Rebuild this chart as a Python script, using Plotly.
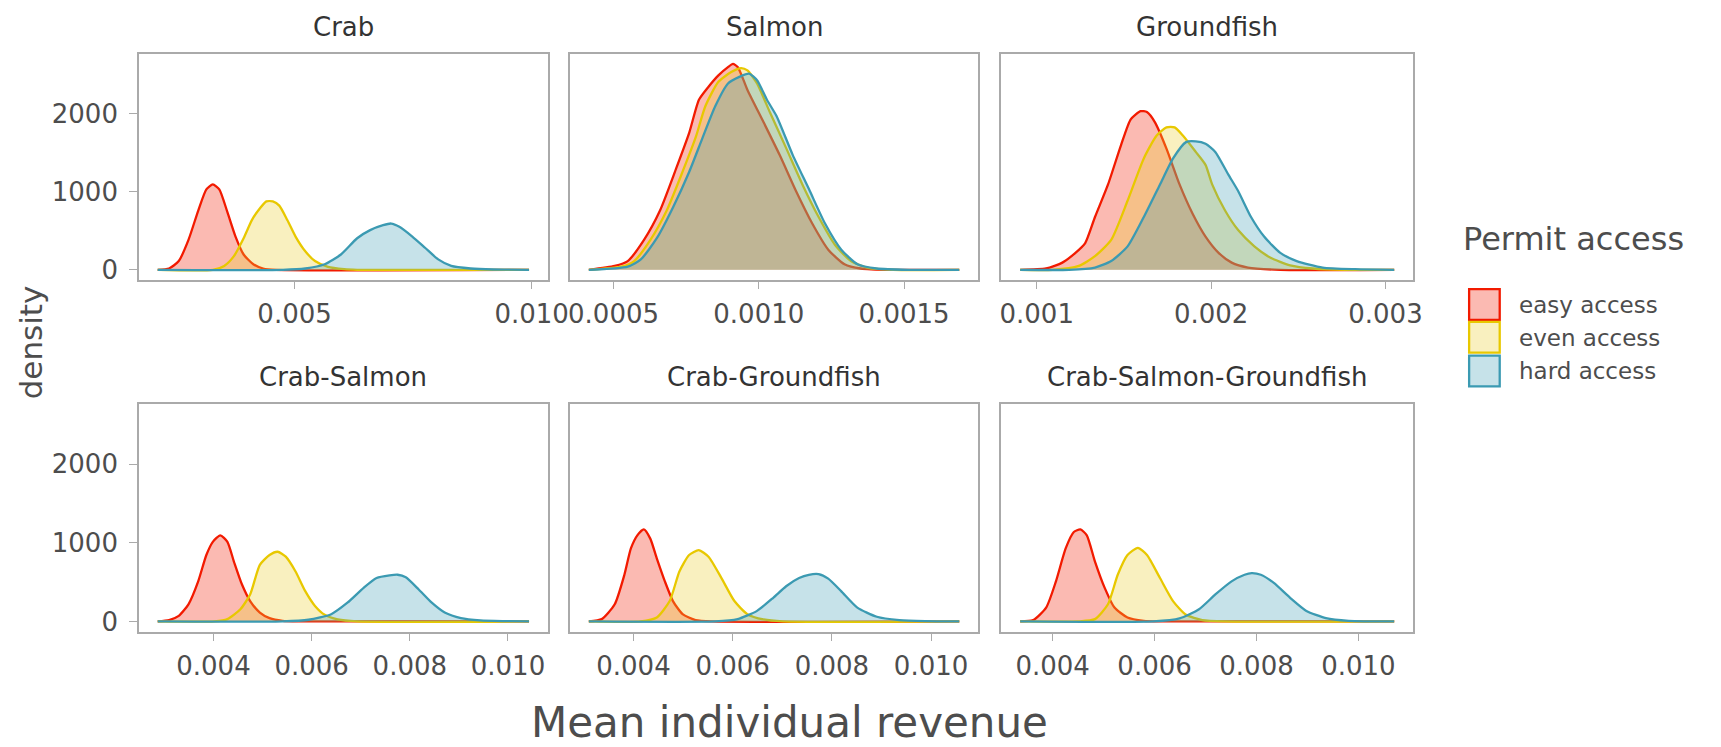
import plotly.graph_objects as go

W, H = 1721, 747

panels = ["Crab", "Salmon", "Groundfish", "Crab-Salmon", "Crab-Groundfish", "Crab-Salmon-Groundfish"]
groups = ["easy access", "even access", "hard access"]

# data range of each panel (min, max of the revenue values)
panel_xmin = [0.002114, 0.000415, 0.000905, 0.002864, 0.003100, 0.003362]
panel_xmax = [0.009945, 0.001690, 0.003050, 0.010429, 0.010568, 0.010702]

# x tick values per panel
tick_vals = [
    [0.005, 0.010],
    [0.0005, 0.0010, 0.0015],
    [0.001, 0.002, 0.003],
    [0.004, 0.006, 0.008, 0.010],
    [0.004, 0.006, 0.008, 0.010],
    [0.004, 0.006, 0.008, 0.010],
]
tick_text = [
    ["0.005", "0.010"],
    ["0.0005", "0.0010", "0.0015"],
    ["0.001", "0.002", "0.003"],
    ["0.004", "0.006", "0.008", "0.010"],
    ["0.004", "0.006", "0.008", "0.010"],
    ["0.004", "0.006", "0.008", "0.010"],
]
y_tick_vals = [0, 1000, 2000]

# ---- density curves ----
crab_easy_x = [0.002114, 0.002353, 0.002558, 0.002763, 0.002969, 0.003140, 0.003276, 0.003413, 0.003584, 0.003755, 0.003926, 0.004131, 0.004337, 0.004610]
crab_easy_y = [0, 17, 112, 383, 758, 1029, 1092, 1029, 737, 425, 196, 71, 17, 0]
crab_even_x = [0.003276, 0.003516, 0.003721, 0.003926, 0.004097, 0.004234, 0.004405, 0.004542, 0.004678, 0.004850, 0.005021, 0.005226, 0.005431, 0.005705, 0.006047, 0.006320]
crab_even_y = [0, 50, 175, 404, 633, 758, 875, 875, 821, 633, 425, 237, 112, 37, 8, 0]
crab_hard_x = [0.004747, 0.005226, 0.005636, 0.005978, 0.006320, 0.006594, 0.006867, 0.007038, 0.007210, 0.007483, 0.007757, 0.008030, 0.008304, 0.008714, 0.009193, 0.009945]
crab_hard_y = [0, 17, 71, 196, 404, 508, 571, 592, 550, 425, 279, 133, 50, 17, 4, 0]

salmon_easy_x = [0.000415, 0.000504, 0.000549, 0.000605, 0.000660, 0.000716, 0.000761, 0.000794, 0.000827, 0.000861, 0.000894, 0.000911, 0.000928, 0.000961, 0.001017, 0.001072, 0.001128, 0.001184, 0.001239, 0.001295, 0.001351, 0.001462]
salmon_easy_y = [0, 50, 112, 383, 758, 1300, 1758, 2175, 2342, 2487, 2592, 2633, 2592, 2300, 1883, 1467, 1008, 592, 258, 71, 17, 0]
salmon_even_x = [0.000415, 0.000527, 0.000571, 0.000627, 0.000683, 0.000738, 0.000783, 0.000816, 0.000861, 0.000905, 0.000939, 0.000961, 0.000994, 0.001039, 0.001095, 0.001150, 0.001206, 0.001262, 0.001317, 0.001373, 0.001462]
salmon_even_y = [0, 42, 112, 383, 758, 1258, 1696, 2092, 2404, 2529, 2580, 2550, 2383, 2008, 1550, 1092, 675, 321, 112, 29, 0]
salmon_hard_x = [0.000415, 0.000549, 0.000594, 0.000649, 0.000705, 0.000761, 0.000805, 0.000850, 0.000894, 0.000933, 0.000967, 0.000994, 0.001028, 0.001061, 0.001117, 0.001173, 0.001228, 0.001284, 0.001340, 0.001406, 0.001518]
salmon_hard_y = [0, 42, 133, 404, 800, 1258, 1675, 2092, 2383, 2467, 2508, 2425, 2175, 1967, 1467, 1029, 592, 258, 71, 17, 0]

ground_easy_x = [0.000905, 0.001054, 0.001147, 0.001222, 0.001278, 0.001334, 0.001409, 0.001483, 0.001539, 0.001595, 0.001632, 0.001679, 0.001744, 0.001819, 0.001894, 0.001968, 0.002043, 0.002118, 0.002211, 0.002397]
ground_easy_y = [0, 17, 92, 217, 342, 675, 1092, 1592, 1925, 2029, 2017, 1883, 1550, 1092, 717, 425, 217, 92, 29, 0]
ground_even_x = [0.001091, 0.001241, 0.001334, 0.001427, 0.001521, 0.001614, 0.001688, 0.001744, 0.001791, 0.001838, 0.001912, 0.001968, 0.002006, 0.002080, 0.002155, 0.002248, 0.002341, 0.002453, 0.002584, 0.002771]
ground_even_y = [0, 50, 175, 383, 883, 1425, 1717, 1821, 1821, 1717, 1508, 1342, 1092, 758, 508, 300, 154, 58, 17, 0]
ground_hard_x = [0.001185, 0.001334, 0.001427, 0.001521, 0.001614, 0.001707, 0.001782, 0.001856, 0.001912, 0.001968, 0.002024, 0.002099, 0.002155, 0.002229, 0.002304, 0.002397, 0.002491, 0.002640, 0.002827, 0.003050]
ground_hard_y = [0, 29, 112, 300, 675, 1092, 1425, 1633, 1642, 1612, 1508, 1217, 1008, 675, 425, 217, 112, 29, 8, 0]

cs_easy_x = [0.002864, 0.003095, 0.003293, 0.003491, 0.003689, 0.003855, 0.003987, 0.004139, 0.004284, 0.004416, 0.004581, 0.004747, 0.004945, 0.005143, 0.005407, 0.005738]
cs_easy_y = [0, 17, 71, 218, 510, 845, 1013, 1096, 1013, 762, 469, 259, 113, 42, 8, 0]
cs_even_x = [0.004020, 0.004284, 0.004548, 0.004747, 0.004945, 0.005143, 0.005308, 0.005473, 0.005672, 0.005870, 0.006068, 0.006266, 0.006531, 0.006927]
cs_even_y = [0, 29, 155, 343, 720, 845, 887, 824, 636, 385, 197, 84, 25, 0]
cs_hard_x = [0.005407, 0.005936, 0.006398, 0.006729, 0.007059, 0.007323, 0.007588, 0.007753, 0.007918, 0.008182, 0.008447, 0.008711, 0.009041, 0.009438, 0.009900, 0.010429]
cs_hard_y = [0, 21, 92, 238, 427, 552, 586, 594, 561, 406, 238, 113, 42, 13, 4, 0]

cg_easy_x = [0.003100, 0.003361, 0.003622, 0.003817, 0.003948, 0.004078, 0.004209, 0.004339, 0.004470, 0.004633, 0.004796, 0.004991, 0.005252, 0.005578]
cg_easy_y = [0, 29, 218, 594, 929, 1096, 1172, 1054, 803, 510, 259, 92, 17, 0]
cg_even_x = [0.004143, 0.004470, 0.004730, 0.004926, 0.005122, 0.005317, 0.005513, 0.005774, 0.006035, 0.006296, 0.006622, 0.007013]
cg_even_y = [0, 50, 259, 636, 845, 908, 824, 552, 259, 92, 25, 0]
cg_hard_x = [0.005644, 0.006100, 0.006491, 0.006818, 0.007078, 0.007339, 0.007535, 0.007731, 0.007926, 0.008187, 0.008513, 0.008905, 0.009361, 0.009883, 0.010568]
cg_hard_y = [0, 29, 134, 301, 448, 552, 594, 603, 544, 385, 176, 59, 17, 4, 0]

csg_easy_x = [0.003362, 0.003617, 0.003872, 0.004064, 0.004255, 0.004415, 0.004543, 0.004670, 0.004830, 0.005021, 0.005213, 0.005468, 0.005787, 0.006106]
csg_easy_y = [0, 17, 176, 510, 929, 1138, 1172, 1096, 762, 427, 176, 50, 8, 0]
csg_even_x = [0.004511, 0.004830, 0.005085, 0.005277, 0.005468, 0.005672, 0.005851, 0.006106, 0.006362, 0.006617, 0.006936, 0.007383]
csg_even_y = [0, 29, 218, 594, 845, 937, 845, 552, 259, 84, 17, 0]
csg_hard_x = [0.005979, 0.006489, 0.006872, 0.007192, 0.007511, 0.007766, 0.007906, 0.008085, 0.008340, 0.008660, 0.008979, 0.009362, 0.009809, 0.010702]
csg_hard_y = [0, 38, 155, 343, 510, 594, 615, 594, 490, 301, 134, 42, 8, 0]

curves = [
    [(crab_easy_x, crab_easy_y), (crab_even_x, crab_even_y), (crab_hard_x, crab_hard_y)],
    [(salmon_easy_x, salmon_easy_y), (salmon_even_x, salmon_even_y), (salmon_hard_x, salmon_hard_y)],
    [(ground_easy_x, ground_easy_y), (ground_even_x, ground_even_y), (ground_hard_x, ground_hard_y)],
    [(cs_easy_x, cs_easy_y), (cs_even_x, cs_even_y), (cs_hard_x, cs_hard_y)],
    [(cg_easy_x, cg_easy_y), (cg_even_x, cg_even_y), (cg_hard_x, cg_hard_y)],
    [(csg_easy_x, csg_easy_y), (csg_even_x, csg_even_y), (csg_hard_x, csg_hard_y)],
]

# ---- styling ----
line_colors = ["#F21A00", "#E8C800", "#3B9AB2"]
fill_colors = ["rgba(242,26,0,0.30)", "rgba(235,204,42,0.30)", "rgba(59,154,178,0.29)"]
FONT = "DejaVu Sans"
TXT = "#4D4D4D"
BORDER = "#AAAAAA"

# panel boxes in pixels (left, right, top, bottom)
col_px = [(139, 553), (576, 989), (1013, 1430)]
row_px = [(54, 282), (407, 636)]

fig = go.Figure()

ymax_all = max(max(y) for p in curves for (x, y) in p)
yr = [-0.05 * ymax_all, 1.05 * ymax_all]

for i, pname in enumerate(panels):
    r, c = divmod(i, 3)
    ax = "" if i == 0 else str(i + 1)
    for g in range(3):
        xs, ys = curves[i][g]
        xx = list(xs)
        yy = list(ys)
        if xx[0] > panel_xmin[i]:
            xx = [panel_xmin[i]] + xx
            yy = [0] + yy
        if xx[-1] < panel_xmax[i]:
            xx = xx + [panel_xmax[i]]
            yy = yy + [0]
        fig.add_trace(go.Scatter(
            x=xx, y=yy, mode="lines", fill="tozeroy",
            fillcolor=fill_colors[g],
            line=dict(color=line_colors[g], width=2.3, shape="spline", smoothing=0.6),
            name=groups[g], showlegend=False, hoverinfo="skip",
            xaxis="x" + ax, yaxis="y" + ax,
        ))
    xl, xr = col_px[c]
    yt, yb = row_px[r]
    span = panel_xmax[i] - panel_xmin[i]
    fig.layout["xaxis" + ax] = dict(
        domain=[xl / W, xr / W], anchor="y" + ax,
        range=[panel_xmin[i] - 0.05 * span, panel_xmax[i] + 0.05 * span],
        tickvals=tick_vals[i], ticktext=tick_text[i],
        ticks="outside", ticklen=7, tickwidth=1.3, tickcolor=BORDER,
        showline=True, linecolor=BORDER, linewidth=2, mirror=True,
        showgrid=False, zeroline=False,
        tickfont=dict(family=FONT, size=26, color=TXT),
        ticklabelstandoff=3,
    )
    fig.layout["yaxis" + ax] = dict(
        domain=[1 - yb / H, 1 - yt / H], anchor="x" + ax,
        range=yr,
        tickvals=y_tick_vals if c == 0 else [],
        ticks="outside" if c == 0 else "", ticklen=8, tickwidth=1.3, tickcolor=BORDER,
        showticklabels=(c == 0),
        showline=True, linecolor=BORDER, linewidth=2, mirror=True,
        showgrid=False, zeroline=False,
        tickfont=dict(family=FONT, size=26, color=TXT),
        ticklabelstandoff=6,
    )
    fig.add_annotation(
        x=(xl + xr) / 2 / W, y=1 - (yt - 27) / H, xref="paper", yref="paper",
        text=pname, showarrow=False, xanchor="center", yanchor="middle",
        font=dict(family=FONT, size=26, color="#333333"),
    )

# axis titles
fig.add_annotation(x=798 / W, y=1 - 727 / H, xref="paper", yref="paper",
                   text="Mean individual revenue", showarrow=False,
                   xanchor="center", yanchor="middle",
                   font=dict(family=FONT, size=42, color=TXT))
fig.add_annotation(x=29 / W, y=1 - 345 / H, xref="paper", yref="paper",
                   text="density", showarrow=False, textangle=-90,
                   xanchor="center", yanchor="middle",
                   font=dict(family=FONT, size=31, color=TXT))

# legend (drawn manually)
fig.add_annotation(x=1479 / W, y=1 - 241 / H, xref="paper", yref="paper",
                   text="Permit access", showarrow=False,
                   xanchor="left", yanchor="middle",
                   font=dict(family=FONT, size=32, color=TXT))
key_top = [291, 324, 358]
for g in range(3):
    t = key_top[g]
    fig.add_shape(type="rect", xref="paper", yref="paper",
                  x0=1487 / W, x1=1518 / W, y0=1 - (t + 31) / H, y1=1 - t / H,
                  fillcolor=fill_colors[g], line=dict(color=line_colors[g], width=2.3))
    fig.add_annotation(x=1536 / W, y=1 - (t + 16) / H, xref="paper", yref="paper",
                       text=groups[g], showarrow=False, xanchor="left", yanchor="middle",
                       font=dict(family=FONT, size=23, color=TXT))

fig.update_layout(
    width=W, height=H,
    margin=dict(l=0, r=0, t=0, b=0),
    paper_bgcolor="white", plot_bgcolor="white",
    showlegend=False,
)

fig.write_html("out.html")
